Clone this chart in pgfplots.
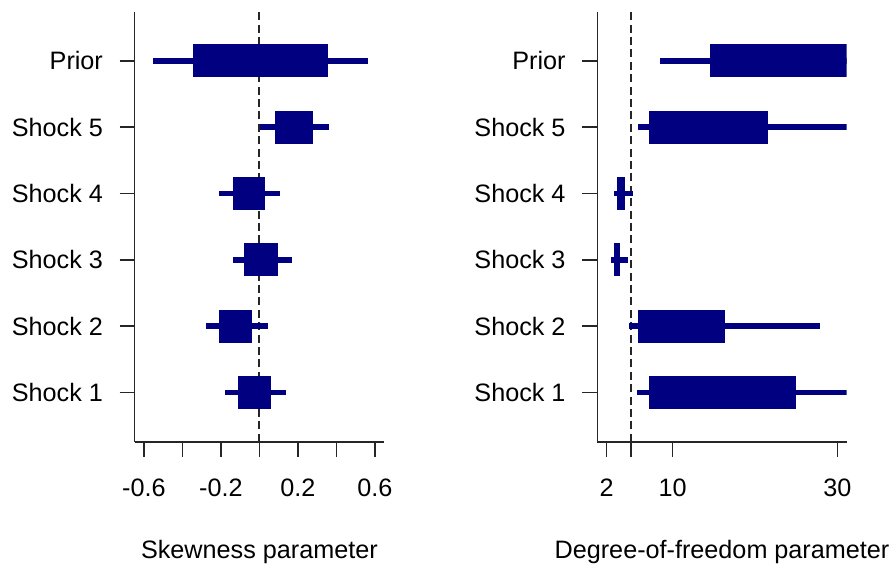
\documentclass[12pt,border=0pt]{standalone}
\usepackage{fontspec}
\setmainfont{Liberation Sans}
\usepackage{pgfplots}
\pgfplotsset{compat=1.18}
\definecolor{barcol}{RGB}{0,0,128}
% rectangle: x1 x2 y1 y2
\newcommand\rb[4]{\addplot[fill=barcol,draw=none,forget plot] coordinates {(#1,#3) (#2,#3) (#2,#4) (#1,#4)} -- cycle;}
\pgfplotsset{
  panel/.style={
    scale only axis,
    width=124.7pt, height=215pt,
    ymin=0.26, ymax=6.74,
    axis x line*=bottom, axis y line*=left,
    axis line style={-, line width=0.8pt, black!85},
    tick style={line width=0.8pt, black!85},
    tick align=outside,
    major tick length=7.5pt,
    ytick={1,2,3,4,5,6},
    yticklabels={Shock 1,Shock 2,Shock 3,Shock 4,Shock 5,Prior},
    yticklabel style={anchor=east, xshift=-4pt},
    xticklabel style={anchor=base, yshift=-20pt},
    every axis x label/.style={at={(axis description cs:0.5,0)}, anchor=base, yshift=-58.15pt},
    /pgf/number format/assume math mode=true,
    clip=true,
  }
}
\begin{document}
\fontsize{12.6}{15}\selectfont
\begin{tikzpicture}
\useasboundingbox (0,0) rectangle (447pt,285pt);
% ---------- left panel: skewness ----------
\begin{axis}[panel,
  at={(67.35pt,64.15pt)}, anchor=south west,
  xmin=-0.648, xmax=0.648,
  xtick={-0.6,-0.4,-0.2,0,0.2,0.4,0.6},
  xticklabels={-0.6,,-0.2,,0.2,,0.6},
  xlabel={Skewness parameter}]
\addplot[black!85, line width=1pt, dash pattern=on 4pt off 2.2pt, forget plot] coordinates {(0,0.26) (0,6.74)};
% Prior (y=6)
\rb{-0.553}{0.562}{5.957}{6.043}
\rb{-0.345}{0.355}{5.75}{6.25}
% Shock 5 (y=5)
\rb{0.002}{0.362}{4.957}{5.043}
\rb{0.081}{0.278}{4.75}{5.25}
% Shock 4 (y=4)
\rb{-0.211}{0.105}{3.957}{4.043}
\rb{-0.135}{0.029}{3.75}{4.25}
% Shock 3 (y=3)
\rb{-0.137}{0.171}{2.957}{3.043}
\rb{-0.078}{0.097}{2.75}{3.25}
% Shock 2 (y=2)
\rb{-0.277}{0.045}{1.957}{2.043}
\rb{-0.211}{-0.038}{1.75}{2.25}
% Shock 1 (y=1)
\rb{-0.177}{0.137}{0.957}{1.043}
\rb{-0.111}{0.062}{0.75}{1.25}
\end{axis}
% ---------- right panel: degrees of freedom ----------
\begin{axis}[panel,
  at={(298.65pt,64.15pt)}, anchor=south west,
  xmin=0.88, xmax=31.12,
  xtick={2,5,10,30},
  xticklabels={2,,10,30},
  xlabel={Degree-of-freedom parameter}]
\addplot[black!85, line width=1pt, dash pattern=on 4pt off 2.2pt, forget plot] coordinates {(5,0.26) (5,6.74)};
% Prior
\rb{8.43}{32}{5.957}{6.043}
\rb{14.6}{32}{5.75}{6.25}
% Shock 5
\rb{5.87}{32}{4.957}{5.043}
\rb{7.2}{21.6}{4.75}{5.25}
% Shock 4
\rb{2.94}{5.17}{3.957}{4.043}
\rb{3.3}{4.24}{3.75}{4.25}
% Shock 3
\rb{2.53}{4.65}{2.957}{3.043}
\rb{2.9}{3.67}{2.75}{3.25}
% Shock 2
\rb{4.69}{27.9}{1.957}{2.043}
\rb{5.87}{16.4}{1.75}{2.25}
% Shock 1
\rb{5.7}{32}{0.957}{1.043}
\rb{7.2}{25.0}{0.75}{1.25}
\end{axis}
\end{tikzpicture}
\end{document}
